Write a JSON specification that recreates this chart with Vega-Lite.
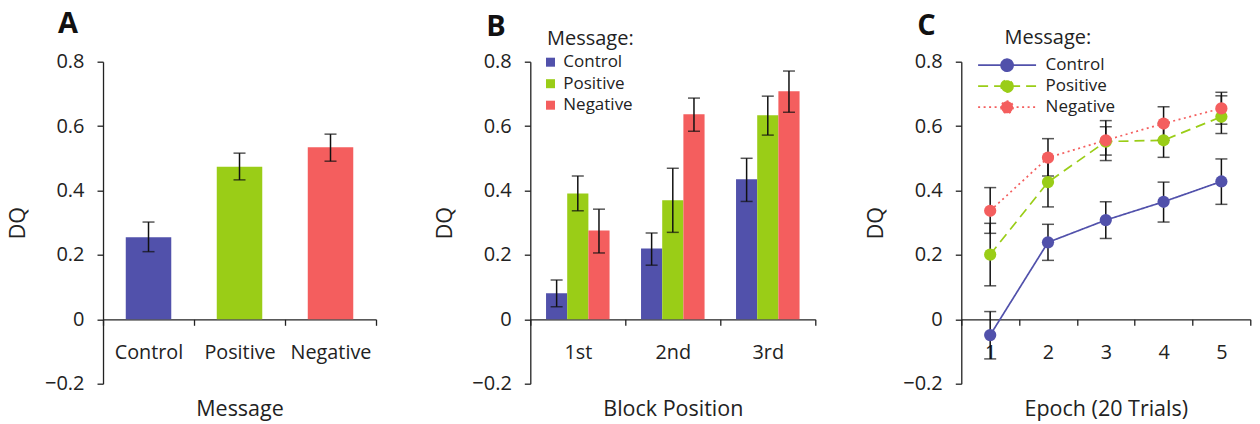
{
  "$schema": "https://vega.github.io/schema/vega-lite/v6.json",
  "padding": {"left": 7, "top": 9.7, "right": 2, "bottom": 2},
  "bounds": "flush",
  "spacing": 154.3,
  "resolve": {"scale": {"color": "independent", "strokeDash": "independent"}, "legend": {"color": "independent", "strokeDash": "independent"}},
  "datasets": {
    "panelA": [
      {"msg": "Control", "dq": 0.255, "lo": 0.210, "hi": 0.302},
      {"msg": "Positive", "dq": 0.474, "lo": 0.433, "hi": 0.516},
      {"msg": "Negative", "dq": 0.534, "lo": 0.491, "hi": 0.575}
    ],
    "panelB": [
      {"block": "1st", "msg": "Control", "dq": 0.081, "lo": 0.039, "hi": 0.122},
      {"block": "1st", "msg": "Positive", "dq": 0.391, "lo": 0.337, "hi": 0.445},
      {"block": "1st", "msg": "Negative", "dq": 0.276, "lo": 0.206, "hi": 0.342},
      {"block": "2nd", "msg": "Control", "dq": 0.220, "lo": 0.168, "hi": 0.268},
      {"block": "2nd", "msg": "Positive", "dq": 0.370, "lo": 0.270, "hi": 0.469},
      {"block": "2nd", "msg": "Negative", "dq": 0.637, "lo": 0.584, "hi": 0.687},
      {"block": "3rd", "msg": "Control", "dq": 0.435, "lo": 0.366, "hi": 0.500},
      {"block": "3rd", "msg": "Positive", "dq": 0.634, "lo": 0.572, "hi": 0.693},
      {"block": "3rd", "msg": "Negative", "dq": 0.708, "lo": 0.643, "hi": 0.771}
    ],
    "panelC": [
      {"epoch": "1", "msg": "Control", "dq": -0.049, "lo": -0.123, "hi": 0.024},
      {"epoch": "2", "msg": "Control", "dq": 0.239, "lo": 0.183, "hi": 0.295},
      {"epoch": "3", "msg": "Control", "dq": 0.308, "lo": 0.251, "hi": 0.365},
      {"epoch": "4", "msg": "Control", "dq": 0.365, "lo": 0.302, "hi": 0.426},
      {"epoch": "5", "msg": "Control", "dq": 0.428, "lo": 0.357, "hi": 0.498},
      {"epoch": "1", "msg": "Positive", "dq": 0.201, "lo": 0.104, "hi": 0.298},
      {"epoch": "2", "msg": "Positive", "dq": 0.426, "lo": 0.349, "hi": 0.503},
      {"epoch": "3", "msg": "Positive", "dq": 0.552, "lo": 0.493, "hi": 0.598},
      {"epoch": "4", "msg": "Positive", "dq": 0.556, "lo": 0.503, "hi": 0.609},
      {"epoch": "5", "msg": "Positive", "dq": 0.629, "lo": 0.577, "hi": 0.694},
      {"epoch": "1", "msg": "Negative", "dq": 0.337, "lo": 0.267, "hi": 0.409},
      {"epoch": "2", "msg": "Negative", "dq": 0.502, "lo": 0.445, "hi": 0.561},
      {"epoch": "3", "msg": "Negative", "dq": 0.556, "lo": 0.510, "hi": 0.617},
      {"epoch": "4", "msg": "Negative", "dq": 0.608, "lo": 0.556, "hi": 0.660},
      {"epoch": "5", "msg": "Negative", "dq": 0.655, "lo": 0.606, "hi": 0.705}
    ]
  },
  "config": {
    "font": "Open Sans",
    "view": {"stroke": null},
    "axis": {
      "domainColor": "#222", "tickColor": "#222", "labelColor": "#222", "titleColor": "#222",
      "labelFont": "Open Sans", "titleFont": "Open Sans", "titleFontWeight": "normal",
      "grid": false, "domainWidth": 1.3, "tickWidth": 1.3, "tickSize": 6
    },
    "legend": {
      "labelFont": "Open Sans", "titleFont": "Open Sans", "labelColor": "#222", "titleColor": "#222",
      "titleFontWeight": "normal", "titleFontSize": 20, "labelFontSize": 17, "padding": 0
    },
    "title": {"font": "Open Sans", "color": "#111"}
  },
  "hconcat": [
    {
      "width": 273, "height": 322,
      "title": {"text": "A", "anchor": "start", "frame": "group", "fontSize": 29, "fontWeight": "bold", "dx": -45, "dy": -9},
      "data": {"name": "panelA"},
      "encoding": {
        "x": {"field": "msg", "type": "nominal", "sort": ["Control", "Positive", "Negative"],
          "scale": {"paddingInner": 0, "paddingOuter": 0},
          "axis": {"title": "Message", "titleFontSize": 21.5, "titleY": 96, "titleBaseline": "alphabetic", "offset": -64.4,
            "labelAngle": 0, "labelFontSize": 19.8, "labelBaseline": "alphabetic", "labelPadding": 33.7, "tickBand": "extent"}}
      },
      "layer": [
        {
          "mark": {"type": "bar", "width": {"band": 0.5}},
          "encoding": {
            "y": {"field": "dq", "type": "quantitative", "scale": {"domain": [-0.2, 0.8], "nice": false, "zero": false},
              "axis": {"title": "DQ", "values": [-0.2, 0, 0.2, 0.4, 0.6, 0.8], "format": ".1~f", "labelFontSize": 20, "labelPadding": 13,
                "titleFontSize": 21.5, "titleX": -85, "titleY": 161, "titleAngle": -90, "titleBaseline": "middle", "titleAlign": "center"}},
            "y2": {"datum": 0},
            "color": {"field": "msg", "type": "nominal", "legend": null,
              "scale": {"domain": ["Control", "Positive", "Negative"], "range": ["#5151AB", "#9ACD17", "#F45E5E"]}}
          }
        },
        {
          "mark": {"type": "rule", "color": "#111", "strokeWidth": 1.5},
          "encoding": {"x": {"field": "msg", "type": "nominal", "sort": ["Control", "Positive", "Negative"], "bandPosition": 0.5},
            "y": {"field": "lo", "type": "quantitative"}, "y2": {"field": "hi"}}
        },
        {
          "mark": {"type": "tick", "orient": "horizontal", "size": 12, "thickness": 1.5, "color": "#111"},
          "encoding": {"y": {"field": "lo", "type": "quantitative"}}
        },
        {
          "mark": {"type": "tick", "orient": "horizontal", "size": 12, "thickness": 1.5, "color": "#111"},
          "encoding": {"y": {"field": "hi", "type": "quantitative"}}
        }
      ]
    },
    {
      "bounds": "flush",
      "spacing": 146,
      "resolve": {"scale": {"color": "independent", "strokeDash": "independent"}, "legend": {"color": "independent", "strokeDash": "independent"}},
      "hconcat": [
        {
          "width": 285, "height": 322,
          "title": {"text": "B", "anchor": "start", "frame": "group", "fontSize": 29, "fontWeight": "bold", "dx": -44, "dy": 17},
          "data": {"name": "panelB"},
          "encoding": {
            "x": {"field": "block", "type": "nominal", "sort": ["1st", "2nd", "3rd"],
              "scale": {"paddingInner": 0, "paddingOuter": 0},
              "axis": {"title": "Block Position", "titleFontSize": 21.5, "titleY": 96, "titleBaseline": "alphabetic", "offset": -64.4,
                "labelAngle": 0, "labelFontSize": 19.8, "labelBaseline": "alphabetic", "labelPadding": 33.7, "tickBand": "extent"}},
            "xOffset": {"field": "msg", "type": "nominal", "sort": ["Control", "Positive", "Negative"],
              "scale": {"paddingInner": 0, "paddingOuter": 0.743}}
          },
          "layer": [
            {
              "mark": {"type": "bar"},
              "encoding": {
                "y": {"field": "dq", "type": "quantitative", "scale": {"domain": [-0.2, 0.8], "nice": false, "zero": false},
                  "axis": {"title": "DQ", "values": [-0.2, 0, 0.2, 0.4, 0.6, 0.8], "format": ".1~f", "labelFontSize": 20, "labelPadding": 13,
                    "titleFontSize": 21.5, "titleX": -85, "titleY": 161, "titleAngle": -90, "titleBaseline": "middle", "titleAlign": "center"}},
                "y2": {"datum": 0},
                "color": {"field": "msg", "type": "nominal", "sort": ["Control", "Positive", "Negative"],
                  "scale": {"domain": ["Control", "Positive", "Negative"], "range": ["#5151AB", "#9ACD17", "#F45E5E"]},
                  "legend": {"title": "Message:", "orient": "none", "legendX": 11.7, "legendY": -33, "symbolType": "square", "symbolSize": 81,
                    "symbolStrokeWidth": 0, "titlePadding": 5, "rowPadding": 3.5, "labelOffset": 4.3,
                    "encode": {"title": {"update": {"dx": {"value": 5}}}}}}
              }
            },
            {
              "mark": {"type": "rule", "color": "#111", "strokeWidth": 1.5},
              "encoding": {"y": {"field": "lo", "type": "quantitative"}, "y2": {"field": "hi"}}
            },
            {
              "mark": {"type": "tick", "orient": "horizontal", "size": 12, "thickness": 1.5, "color": "#111"},
              "encoding": {"y": {"field": "lo", "type": "quantitative"}}
            },
            {
              "mark": {"type": "tick", "orient": "horizontal", "size": 12, "thickness": 1.5, "color": "#111"},
              "encoding": {"y": {"field": "hi", "type": "quantitative"}}
            }
          ]
        },
        {
          "width": 289, "height": 322,
          "title": {"text": "C", "anchor": "start", "frame": "group", "fontSize": 29, "fontWeight": "bold", "dx": -44, "dy": 17},
          "data": {"name": "panelC"},
          "encoding": {
            "x": {"field": "epoch", "type": "ordinal", "bandPosition": 0.5,
              "scale": {"type": "band", "paddingInner": 0, "paddingOuter": 0},
              "axis": {"title": "Epoch (20 Trials)", "titleFontSize": 21.5, "titleY": 96, "titleBaseline": "alphabetic", "offset": -64.4,
                "labelAngle": 0, "labelFontSize": 19.8, "labelBaseline": "alphabetic", "labelPadding": 33.7, "tickBand": "extent"}},
            "y": {"field": "dq", "type": "quantitative", "scale": {"domain": [-0.2, 0.8], "nice": false, "zero": false},
              "axis": {"title": "DQ", "values": [-0.2, 0, 0.2, 0.4, 0.6, 0.8], "format": ".1~f", "labelFontSize": 20, "labelPadding": 13,
                "titleFontSize": 21.5, "titleX": -85, "titleY": 161, "titleAngle": -90, "titleBaseline": "middle", "titleAlign": "center"}}
          },
          "layer": [
            {
              "mark": {"type": "line", "strokeWidth": 1.7},
              "encoding": {
                "color": {"field": "msg", "type": "nominal", "sort": ["Control", "Positive", "Negative"],
                  "scale": {"domain": ["Control", "Positive", "Negative"], "range": ["#5151AB", "#9ACD17", "#F45E5E"]},
                  "legend": {"title": "Message:", "orient": "none", "legendX": 37.3, "legendY": -34,
                    "symbolType": "M -4.83 0 L 4.83 0 M 1 0 C 1 0.5523 0.5523 1 0 1 C -0.5523 1 -1 0.5523 -1 0 C -1 -0.5523 -0.5523 -1 0 -1 C 0.5523 -1 1 -0.5523 1 0 Z",
                    "symbolSize": 144, "symbolStrokeWidth": 1.7, "titlePadding": 9, "rowPadding": 2, "labelOffset": 30,
                    "encode": {"title": {"update": {"dx": {"value": 6}}},
                      "symbols": {"update": {"fill": {"scale": "color", "field": "value"}, "fillOpacity": {"value": 1}}}}}
                },
                "strokeDash": {"field": "msg", "type": "nominal", "sort": ["Control", "Positive", "Negative"],
                  "scale": {"domain": ["Control", "Positive", "Negative"], "range": [[1, 0], [10, 6], [2, 3.5]]},
                  "legend": {"title": "Message:", "orient": "none", "legendX": 37.3, "legendY": -34,
                    "symbolType": "M -4.83 0 L 4.83 0 M 1 0 C 1 0.5523 0.5523 1 0 1 C -0.5523 1 -1 0.5523 -1 0 C -1 -0.5523 -0.5523 -1 0 -1 C 0.5523 -1 1 -0.5523 1 0 Z",
                    "symbolSize": 144, "symbolStrokeWidth": 1.7, "titlePadding": 9, "rowPadding": 2, "labelOffset": 30,
                    "encode": {"title": {"update": {"dx": {"value": 6}}},
                      "symbols": {"update": {"fill": {"scale": "color", "field": "value"}, "fillOpacity": {"value": 1}}}}}
                }
              }
            },
            {
              "mark": {"type": "rule", "color": "#111", "strokeWidth": 1.5},
              "encoding": {"y": {"field": "lo", "type": "quantitative"}, "y2": {"field": "hi"}}
            },
            {
              "mark": {"type": "tick", "orient": "horizontal", "size": 12, "thickness": 1.5, "color": "#111"},
              "encoding": {"y": {"field": "lo", "type": "quantitative"}}
            },
            {
              "mark": {"type": "tick", "orient": "horizontal", "size": 12, "thickness": 1.5, "color": "#111"},
              "encoding": {"y": {"field": "hi", "type": "quantitative"}}
            },
            {
              "mark": {"type": "point", "filled": true, "size": 150, "opacity": 1},
              "encoding": {
                "color": {"field": "msg", "type": "nominal", "legend": null}
              }
            }
          ]
        }
      ]
    }
  ]
}
